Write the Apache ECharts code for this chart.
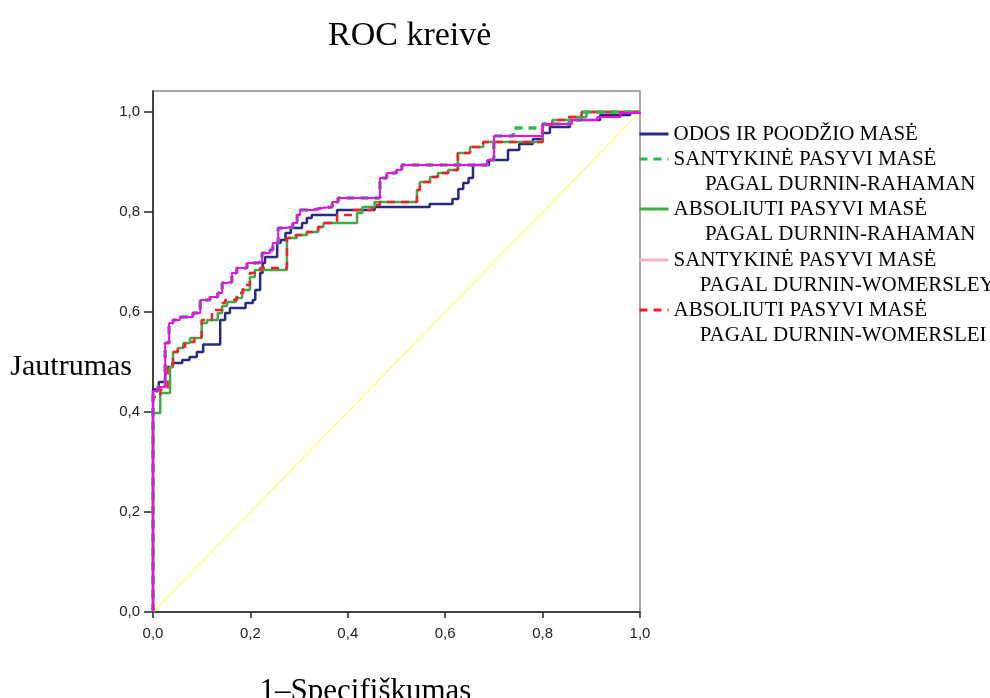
<!DOCTYPE html>
<html>
<head>
<meta charset="utf-8">
<script src="https://cdn.jsdelivr.net/npm/echarts@6/dist/echarts.min.js"></script>
<style>
  html, body { margin: 0; padding: 0; background: #fff; }
  #chart { width: 990px; height: 698px; }
</style>
</head>
<body>
<div id="chart"></div>
<script>
// ROC corner points: [1 - specifiškumas, jautrumas] where each step rises
const odos = [
  [0, 0], [0, 0.445], [0.012, 0.46], [0.025, 0.49], [0.04, 0.498], [0.06, 0.504],
  [0.075, 0.51], [0.09, 0.52], [0.103, 0.535], [0.138, 0.584], [0.148, 0.598],
  [0.158, 0.608], [0.19, 0.618], [0.205, 0.624], [0.21, 0.644], [0.22, 0.678],
  [0.225, 0.698], [0.23, 0.71], [0.255, 0.738], [0.262, 0.744], [0.272, 0.758],
  [0.283, 0.768], [0.306, 0.778], [0.316, 0.788], [0.326, 0.794], [0.378, 0.804],
  [0.455, 0.81], [0.568, 0.816], [0.615, 0.826], [0.627, 0.846], [0.637, 0.858],
  [0.648, 0.868], [0.657, 0.894], [0.69, 0.904], [0.729, 0.924], [0.752, 0.936],
  [0.78, 0.946], [0.8, 0.958], [0.815, 0.97], [0.856, 0.984], [0.918, 0.994],
  [0.98, 1], [1, 1]
];
const santRahaman = [
  [0, 0], [0, 0.442], [0.01, 0.45], [0.025, 0.538], [0.033, 0.578], [0.041, 0.584],
  [0.055, 0.59], [0.082, 0.598], [0.097, 0.624], [0.117, 0.63], [0.133, 0.638],
  [0.142, 0.658], [0.152, 0.66], [0.162, 0.678], [0.172, 0.688], [0.193, 0.698],
  [0.213, 0.7], [0.224, 0.718], [0.24, 0.724], [0.246, 0.738], [0.257, 0.768],
  [0.271, 0.77], [0.287, 0.778], [0.296, 0.794], [0.302, 0.804], [0.329, 0.808],
  [0.347, 0.81], [0.368, 0.82], [0.38, 0.828], [0.466, 0.868], [0.48, 0.878],
  [0.5, 0.884], [0.511, 0.894], [0.686, 0.904], [0.7, 0.952], [0.74, 0.968],
  [0.8, 0.976], [0.856, 0.984], [0.88, 1], [1, 1]
];
const absRahaman = [
  [0, 0], [0, 0.398], [0.015, 0.438], [0.035, 0.49], [0.041, 0.52], [0.051, 0.528],
  [0.062, 0.538], [0.076, 0.548], [0.1, 0.578], [0.111, 0.584], [0.133, 0.598],
  [0.142, 0.612], [0.152, 0.62], [0.17, 0.628], [0.183, 0.644], [0.199, 0.67],
  [0.209, 0.684], [0.275, 0.748], [0.295, 0.754], [0.316, 0.76], [0.339, 0.77],
  [0.35, 0.778], [0.419, 0.798], [0.43, 0.81], [0.455, 0.82], [0.542, 0.844],
  [0.548, 0.86], [0.569, 0.87], [0.585, 0.878], [0.606, 0.884], [0.626, 0.918],
  [0.651, 0.93], [0.678, 0.94], [0.8, 0.974], [0.82, 0.984], [0.856, 0.99],
  [0.89, 1], [1, 1]
];
const santWomersley = [
  [0, 0], [0, 0.442], [0.01, 0.45], [0.025, 0.538], [0.033, 0.578], [0.041, 0.584],
  [0.055, 0.59], [0.082, 0.598], [0.097, 0.624], [0.117, 0.63], [0.133, 0.638],
  [0.142, 0.658], [0.152, 0.66], [0.162, 0.678], [0.172, 0.688], [0.193, 0.698],
  [0.213, 0.7], [0.224, 0.718], [0.24, 0.724], [0.246, 0.738], [0.257, 0.768],
  [0.271, 0.77], [0.287, 0.778], [0.296, 0.794], [0.302, 0.804], [0.329, 0.808],
  [0.347, 0.81], [0.368, 0.82], [0.38, 0.828], [0.466, 0.868], [0.48, 0.878],
  [0.5, 0.884], [0.511, 0.894], [0.686, 0.904], [0.7, 0.952], [0.8, 0.976],
  [0.86, 0.984], [0.912, 0.99], [0.96, 0.998], [1, 1]
];
const absWomerslei = [
  [0, 0], [0, 0.43], [0.015, 0.445], [0.03, 0.49], [0.041, 0.52], [0.051, 0.53],
  [0.066, 0.54], [0.085, 0.55], [0.1, 0.584], [0.121, 0.604], [0.142, 0.618],
  [0.148, 0.624], [0.172, 0.638], [0.185, 0.654], [0.199, 0.678], [0.22, 0.688],
  [0.275, 0.748], [0.293, 0.754], [0.316, 0.76], [0.339, 0.77], [0.35, 0.778],
  [0.378, 0.794], [0.41, 0.804], [0.45, 0.814], [0.466, 0.82], [0.542, 0.844],
  [0.548, 0.86], [0.573, 0.87], [0.585, 0.878], [0.606, 0.884], [0.626, 0.918],
  [0.651, 0.93], [0.678, 0.94], [0.8, 0.974], [0.82, 0.984], [0.852, 0.99],
  [0.88, 1], [1, 1]
];
const refLine = [[0, 0], [1, 1]];
const xTicks = [0, 0.2, 0.4, 0.6, 0.8, 1];
const yTicks = [0, 0.2, 0.4, 0.6, 0.8, 1];

const names = [
  'ODOS IR POODŽIO MASĖ',
  'SANTYKINĖ PASYVI MASĖ PAGAL DURNIN-RAHAMAN',
  'ABSOLIUTI PASYVI MASĖ PAGAL DURNIN-RAHAMAN',
  'SANTYKINĖ PASYVI MASĖ PAGAL DURNIN-WOMERSLEY',
  'ABSOLIUTI PASYVI MASĖ PAGAL DURNIN-WOMERSLEI'
];

// turn corner points into a staircase (rise, then run)
function stairs(pts) {
  const out = [pts[0]];
  for (let i = 1; i < pts.length; i++) {
    out.push([pts[i][0], pts[i - 1][1]]);
    out.push(pts[i]);
  }
  return out;
}

const serif = "'Liberation Serif', 'DejaVu Serif', serif";
const sans = "'Liberation Sans', Arial, sans-serif";
const comma = v => v.toFixed(1).replace('.', ',');

function legendAt(name, top, indent, extra) {
  return {
    data: [Object.assign({ name: name }, extra || {})],
    left: 638,
    top: top,
    padding: 0,
    itemGap: 0,
    itemWidth: 29,
    itemHeight: 14,
    selectedMode: false,
    itemStyle: { opacity: 0 },
    lineStyle: { width: 3 },
    textStyle: { fontFamily: serif, fontSize: 21, color: '#000', lineHeight: 25 },
    formatter: n => {
      const k = n.indexOf(' PAGAL');
      if (k < 0) return n;
      return '\n' + n.slice(0, k) + '\n' + ' '.repeat(indent) + n.slice(k + 1);
    }
  };
}

const chart = echarts.init(document.getElementById('chart'));
chart.setOption({
  animation: false,
  backgroundColor: '#fff',
  title: {
    text: 'ROC kreivė',
    left: 323,
    top: 14,
    textStyle: { fontFamily: serif, fontSize: 34, fontWeight: 'normal', color: '#000' }
  },
  legend: [
    legendAt(names[0], 121.5, 0),
    legendAt(names[1], 121.5, 6),
    legendAt(names[2], 171.5, 6),
    legendAt(names[3], 222.5, 5, { itemStyle: { color: '#ffb0c0', opacity: 0 }, lineStyle: { color: '#ffb0c0', width: 3 } }),
    legendAt(names[4], 272.5, 5)
  ],
  grid: {
    left: 153, right: 350, top: 91, bottom: 86,
    outerBoundsMode: 'none',
    containLabel: false,
    show: true, borderColor: '#8a8a8a', borderWidth: 1.5, backgroundColor: '#fff'
  },
  xAxis: {
    type: 'value',
    min: xTicks[0],
    max: xTicks[xTicks.length - 1],
    interval: 0.2,
    name: '1–Specifiškumas',
    nameLocation: 'middle',
    nameGap: 64,
    nameMoveOverlap: false,
    nameTextStyle: { fontFamily: serif, fontSize: 31, color: '#000', padding: [0, 62, 0, 0] },
    axisLine: { lineStyle: { color: '#222', width: 1.5 } },
    axisTick: { length: 6, lineStyle: { color: '#222', width: 1.5 } },
    axisLabel: { formatter: comma, fontFamily: sans, fontSize: 15, color: '#222', margin: 14 },
    splitLine: { show: false }
  },
  yAxis: {
    type: 'value',
    min: 0,
    max: 1.042,
    interval: 0.2,
    name: 'Jautrumas',
    nameLocation: 'middle',
    nameRotate: 0,
    nameGap: 21,
    nameMoveOverlap: false,
    nameTextStyle: { fontFamily: serif, fontSize: 30, color: '#000', verticalAlign: 'top', lineHeight: 32 },
    axisLine: { lineStyle: { color: '#222', width: 1.5 } },
    axisTick: { length: 9, customValues: yTicks, lineStyle: { color: '#222', width: 1.5 } },
    axisLabel: {
      customValues: yTicks,
      formatter: v => comma(v),
      fontFamily: sans, fontSize: 15, color: '#222', margin: 13
    },
    splitLine: { show: false }
  },
  series: [
    {
      name: 'ref', type: 'line', data: refLine, symbol: 'none', silent: true,
      lineStyle: { color: '#ffff80', width: 1.5 }
    },
    {
      name: names[0], type: 'line', data: stairs(odos), symbol: 'none',
      color: '#262a80', lineStyle: { color: '#262a80', width: 2.5 }
    },
    {
      name: names[2], type: 'line', data: stairs(absRahaman), symbol: 'none',
      color: '#3aae45', lineStyle: { color: '#3aae45', width: 2.5 }
    },
    {
      name: names[4], type: 'line', data: stairs(absWomerslei), symbol: 'none',
      color: '#ff1a2e', lineStyle: { color: '#ff1a2e', width: 2.5, type: [8, 6] }
    },
    {
      name: names[1], type: 'line', data: stairs(santRahaman), symbol: 'none',
      color: '#2db84d', lineStyle: { color: '#2db84d', width: 3.5, type: [8, 6] }
    },
    {
      name: names[3], type: 'line', data: stairs(santWomersley), symbol: 'none',
      color: '#ff00ff', lineStyle: { color: '#ff00ff', width: 2 }
    }
  ]
});
</script>
</body>
</html>
